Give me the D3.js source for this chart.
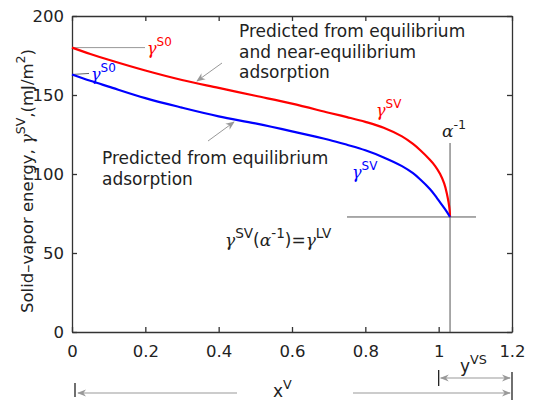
<!DOCTYPE html>
<html><head><meta charset="utf-8">
<script src="https://cdn.jsdelivr.net/npm/d3@7"></script>
<style>
body{margin:0;background:#fff}
text{font-family:"DejaVu Sans",sans-serif;}
</style>
</head><body>
<svg id="c" width="534" height="400"></svg>
<script>
// ---- data ----
const xTicks = [0, 0.2, 0.4, 0.6, 0.8, 1, 1.2];
const xTickLabels = ["0", "0.2", "0.4", "0.6", "0.8", "1", "1.2"];
const yTicks = [0, 50, 100, 150, 200];
const yTickLabels = ["0", "50", "100", "150", "200"];

const xRed = [0, 0.05, 0.1, 0.2, 0.3, 0.4, 0.5, 0.6, 0.7, 0.75, 0.8, 0.85, 0.9, 0.93, 0.95, 0.976, 0.99, 1.004, 1.015, 1.022, 1.027, 1.03, 1.031];
const yRed = [180, 176, 172.3, 165.5, 159.5, 154.5, 149.5, 144.5, 138.8, 136, 133, 129.3, 123.8, 119, 115, 109, 105.2, 100, 94, 88, 82, 77, 72.8];

const xBlue = [0, 0.05, 0.1, 0.2, 0.3, 0.4, 0.5, 0.6, 0.7, 0.75, 0.8, 0.85, 0.9, 0.93, 0.95, 0.976, 0.99, 1.0, 1.012, 1.022, 1.031];
const yBlue = [163, 159, 155.3, 148, 142, 136.5, 132, 127, 121.7, 118.5, 115, 110.5, 105, 100.5, 96.5, 90.5, 86.5, 83.3, 79.5, 76.2, 72.8];

const alphaInv = 1.031;
const gammaLV = 72.8;
const gammaS0Red = 180;
const gammaS0Blue = 163;

// ---- layout ----
const W = 534, H = 400;
const m = {l: 72, r: 22, t: 16, b: 68};
const svg = d3.select("#c");
const x = d3.scaleLinear().domain([0, 1.2]).range([m.l, W - m.r]);
const y = d3.scaleLinear().domain([0, 200]).range([H - m.b, m.t]);

const axisColor = "#333";
const fs = 16.5;

// axes
const gB = svg.append("g").attr("transform", `translate(0,${y(0)})`)
  .call(d3.axisBottom(x).tickValues(xTicks).tickFormat((d, i) => xTickLabels[i]).tickSizeInner(-5).tickSizeOuter(0).tickPadding(13));
const gL = svg.append("g").attr("transform", `translate(${x(0)},0)`)
  .call(d3.axisLeft(y).tickValues(yTicks).tickFormat((d, i) => yTickLabels[i]).tickSizeInner(-5).tickSizeOuter(0).tickPadding(8));
const gT = svg.append("g").attr("transform", `translate(0,${y(200)})`)
  .call(d3.axisTop(x).tickValues(xTicks).tickFormat("").tickSizeInner(-5).tickSizeOuter(0));
const gR = svg.append("g").attr("transform", `translate(${x(1.2)},0)`)
  .call(d3.axisRight(y).tickValues(yTicks).tickFormat("").tickSizeInner(-5).tickSizeOuter(0));
[gB, gL, gT, gR].forEach(g => {
  g.selectAll("path,line").attr("stroke", axisColor).attr("stroke-width", 1.3);
  g.selectAll("text").attr("fill", "#222").attr("font-size", fs).attr("font-family", "DejaVu Sans");
});

// arrow marker
const defs = svg.append("defs");
defs.append("marker").attr("id", "ah").attr("viewBox", "0 0 10 10").attr("refX", 9).attr("refY", 5)
  .attr("markerWidth", 9).attr("markerHeight", 9).attr("markerUnits", "userSpaceOnUse").attr("orient", "auto-start-reverse")
  .append("path").attr("d", "M0,1 L10,5 L0,9 L3,5 Z").attr("fill", "#999");

const gray = "#999";

// reference lines at alpha^-1 and gamma^LV
svg.append("line").attr("x1", x(alphaInv)).attr("x2", x(alphaInv)).attr("y1", 143).attr("y2", y(0))
  .attr("stroke", "#555").attr("stroke-width", 1);
svg.append("line").attr("x1", 347).attr("x2", 476).attr("y1", y(gammaLV)).attr("y2", y(gammaLV))
  .attr("stroke", "#555").attr("stroke-width", 1);

// gamma S0 leader lines
svg.append("line").attr("x1", x(0)).attr("x2", 145).attr("y1", y(gammaS0Red)).attr("y2", y(gammaS0Red))
  .attr("stroke", gray).attr("stroke-width", 1);
svg.append("line").attr("x1", x(0)).attr("x2", 89).attr("y1", y(gammaS0Blue)).attr("y2", y(gammaS0Blue) - 1)
  .attr("stroke", "#666").attr("stroke-width", 1);

// curves
const line = d3.line().x(d => x(d[0])).y(d => y(d[1])).curve(d3.curveCatmullRom.alpha(0.5));
svg.append("path").datum(xRed.map((v, i) => [v, yRed[i]])).attr("d", line)
  .attr("fill", "none").attr("stroke", "#ff0000").attr("stroke-width", 2.2);
svg.append("path").datum(xBlue.map((v, i) => [v, yBlue[i]])).attr("d", line)
  .attr("fill", "none").attr("stroke", "#0000ff").attr("stroke-width", 2.2);

// helper for text with super scripts: parts = [[text, sup?, greek?], ...]
function rich(xp, yp, parts, color, size, supRatio) {
  const r = supRatio || 0.75;
  const t = svg.append("text").attr("x", xp).attr("y", yp).attr("fill", color).attr("font-size", size);
  let prevSup = false;
  parts.forEach(p => {
    const ts = t.append("tspan").text(p[0]);
    if (p[2]) ts.attr("font-family", "DejaVu Serif").attr("font-style", "italic").attr("font-weight", 300);
    if (p[1]) ts.attr("font-size", size * r);
    if (p[1] && !prevSup) ts.attr("dy", -0.5 * size);
    else if (!p[1] && prevSup) ts.attr("dy", 0.5 * size);
    prevSup = !!p[1];
  });
  return t;
}

// curve labels
rich(147, 54, [["γ", 0, 1], ["S0", 1]], "#ff0000", 16);
rich(91, 80, [["γ", 0, 1], ["S0", 1]], "#0000ff", 16);
rich(376, 116, [["γ", 0, 1], ["SV", 1]], "#ff0000", 16);
rich(352, 178, [["γ", 0, 1], ["SV", 1]], "#0000ff", 16);
rich(442, 137, [["α", 0, 1], ["-1", 1]], "#222", 17);
rich(225, 246, [["γ", 0, 1], ["SV", 1], ["(", 0], ["α", 0, 1], ["-1", 1], [")=", 0], ["γ", 0, 1], ["LV", 1]], "#222", 17, 0.8);

// annotation text
const t1 = svg.append("text").attr("fill", "#222").attr("font-size", 17);
["Predicted from equilibrium", "and near-equilibrium", "adsorption"].forEach((s, i) =>
  t1.append("tspan").attr("x", 239).attr("y", 37 + i * 20.5).text(s));
const t2 = svg.append("text").attr("fill", "#222").attr("font-size", 17);
["Predicted from equilibrium", "adsorption"].forEach((s, i) =>
  t2.append("tspan").attr("x", 102).attr("y", 164 + i * 21).text(s));

// annotation arrows
svg.append("line").attr("x1", 222).attr("y1", 63).attr("x2", 197).attr("y2", 81)
  .attr("stroke", gray).attr("stroke-width", 1).attr("marker-end", "url(#ah)");
svg.append("line").attr("x1", 208).attr("y1", 141).attr("x2", 234).attr("y2", 122)
  .attr("stroke", gray).attr("stroke-width", 1).attr("marker-end", "url(#ah)");

// y axis label
const yl = svg.append("text").attr("transform", "translate(33,181) rotate(-90)").attr("text-anchor", "middle")
  .attr("fill", "#222").attr("font-size", 16.5);
[["Solid–vapor energy, ", 0], ["γ", 0, 1], ["SV", 1], [",(mJ/m", 0], ["2", 1], [")", 0]].forEach((p, i, arr) => {
  const ts = yl.append("tspan").text(p[0]);
  if (p[2]) ts.attr("font-family", "DejaVu Serif").attr("font-style", "italic").attr("font-weight", 300);
  if (p[1]) ts.attr("dy", -8).attr("font-size", 12.5);
  else if (i > 0 && arr[i - 1][1]) ts.attr("dy", 8);
});

// x axis labels with range arrows
svg.append("line").attr("x1", 75).attr("x2", 75).attr("y1", 383).attr("y2", 397).attr("stroke", "#222").attr("stroke-width", 1.3);
svg.append("line").attr("x1", 237).attr("y1", 393).attr("x2", 78).attr("y2", 393)
  .attr("stroke", gray).attr("stroke-width", 1).attr("marker-end", "url(#ah)");
svg.append("line").attr("x1", 353).attr("y1", 393).attr("x2", 510).attr("y2", 393)
  .attr("stroke", gray).attr("stroke-width", 1).attr("marker-end", "url(#ah)");
svg.append("line").attr("x1", x(1.2)).attr("x2", x(1.2)).attr("y1", 372).attr("y2", 400).attr("stroke", "#222").attr("stroke-width", 1.3);
svg.append("line").attr("x1", x(1)).attr("x2", x(1)).attr("y1", 370).attr("y2", 386).attr("stroke", "#222").attr("stroke-width", 1.3);
svg.append("line").attr("x1", x(1) + 2).attr("y1", 378).attr("x2", x(1.2) - 2).attr("y2", 378)
  .attr("stroke", gray).attr("stroke-width", 1).attr("marker-start", "url(#ah)").attr("marker-end", "url(#ah)");

rich(273, 397, [["x", 0], ["V", 1]], "#222", 17);
rich(460, 372, [["y", 0], ["VS", 1]], "#222", 17);
</script>
</body></html>
